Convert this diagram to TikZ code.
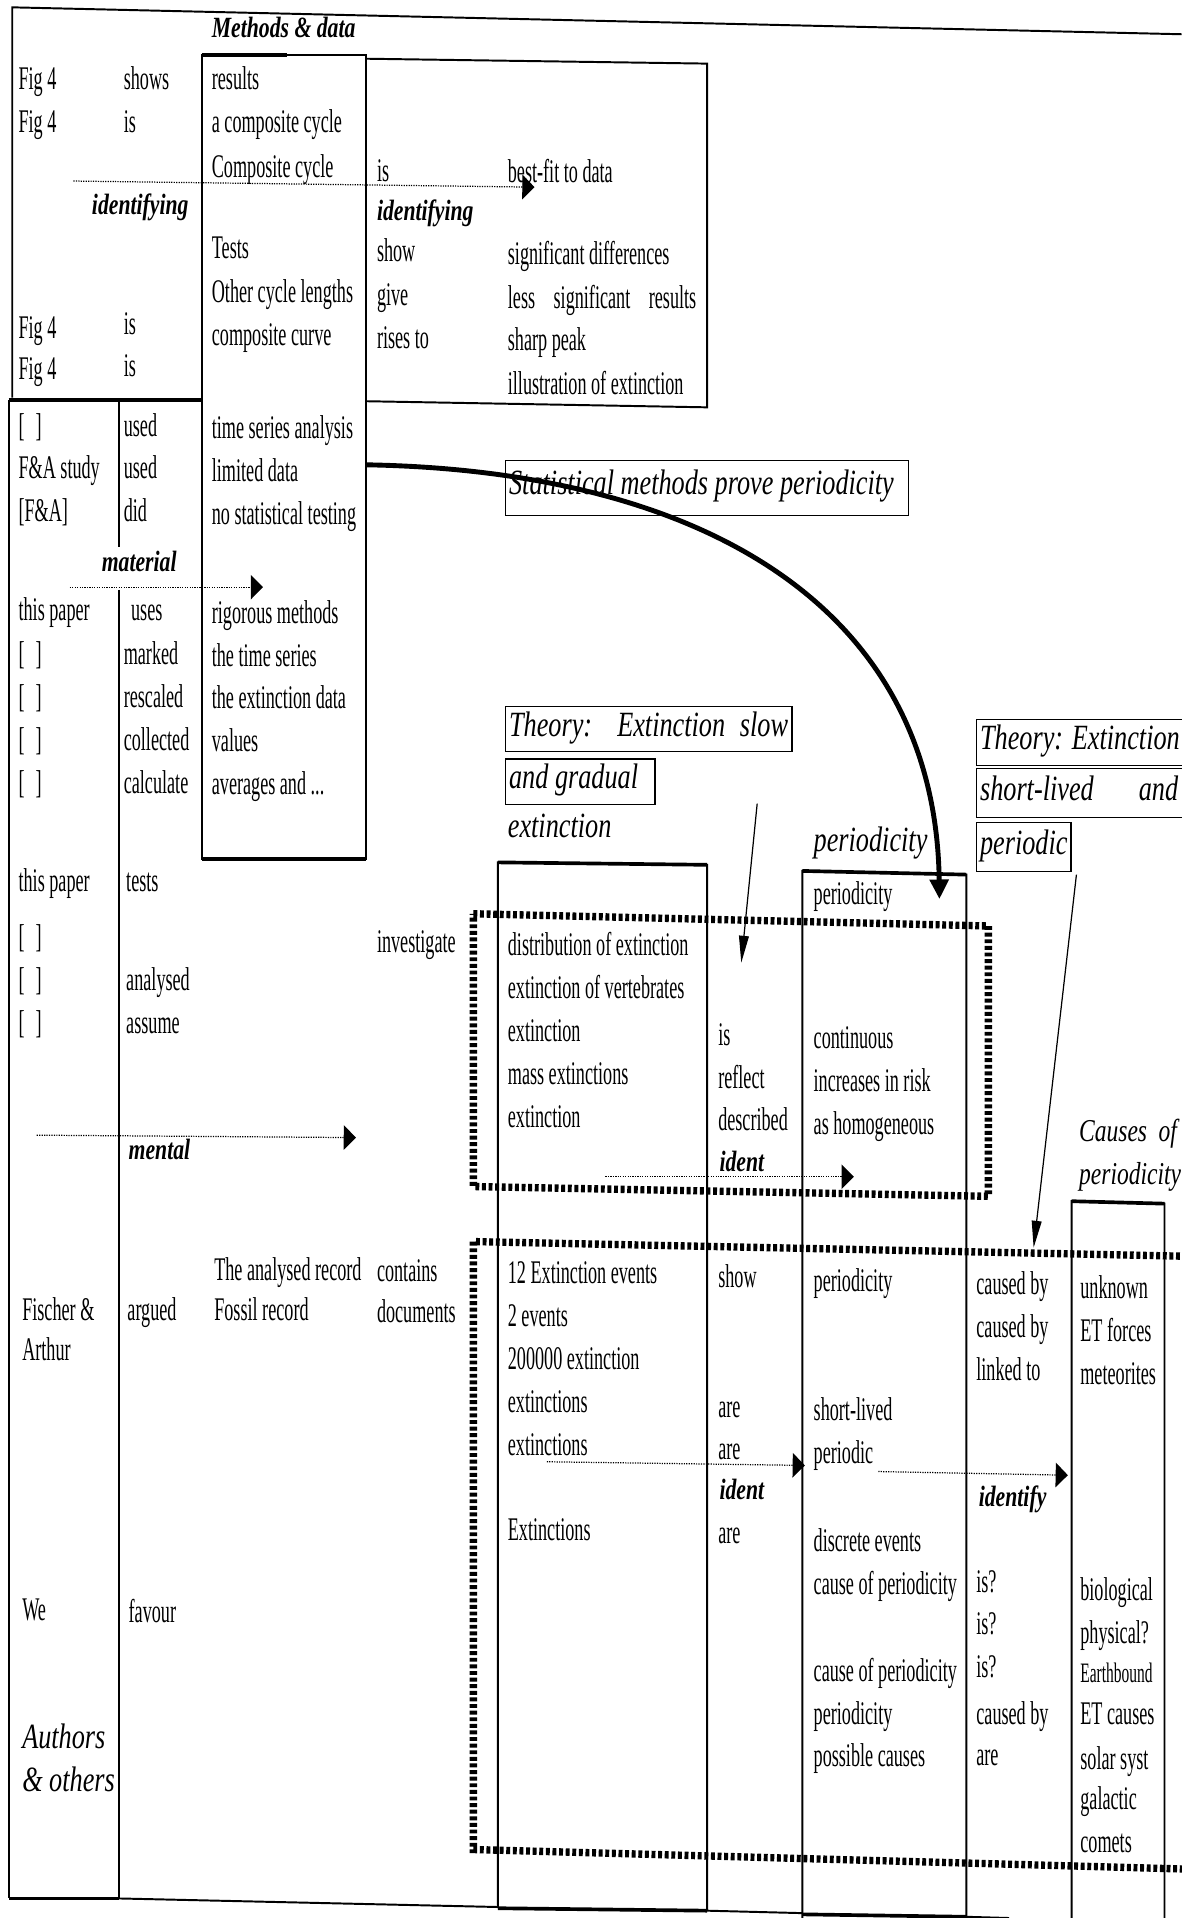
\documentclass[tikz,border=0pt]{standalone}
\usepackage{fontspec}
\setmainfont{Liberation Serif}
\newfontfamily\condfont[FakeStretch=0.55]{Liberation Serif}
\newfontfamily\handfont[FakeStretch=0.74]{Liberation Serif}
\usetikzlibrary{arrows.meta}
\begin{document}
\begin{tikzpicture}[x=1pt,y=-1pt,
 tx/.style={anchor=west,inner sep=0pt,font=\condfont\fontsize{27}{30}\selectfont,text height=18pt,text depth=5pt},
 txs/.style={tx,font=\condfont\fontsize{23}{26}\selectfont},
 hand/.style={anchor=west,inner sep=0pt,font=\handfont\itshape\fontsize{29}{32}\selectfont,text height=20pt,text depth=7pt},
 hands/.style={hand,font=\handfont\itshape\fontsize{26}{30}\selectfont},
 handb/.style={anchor=west,inner sep=0pt,font=\handfont\bfseries\itshape\fontsize{24}{28}\selectfont,text height=17pt,text depth=6pt},
 lin/.style={line width=1.6pt},
 thk/.style={line width=3pt},
 thbox/.style={draw,line width=1pt,inner sep=0pt,anchor=north west},
 hatch/.style={line width=6pt,dash pattern=on 3.2pt off 2.2pt},
 dotarrow/.style={line width=1pt,dash pattern=on 1pt off 1pt,-{Triangle[length=10pt,width=20pt]}},
 thinarrow/.style={line width=1pt,-{Triangle[length=22pt,width=8pt]}},
 bigarrow/.style={line width=4pt,-{Triangle[length=16pt,width=15pt]}}
]
\useasboundingbox (0,0) rectangle (966,1568);
\fill[white] (0,0) rectangle (966,1568);

% ---------- frames ----------
\draw[lin] (10,325) -- (10,6) -- (966,28);
\draw[lin] (165,45) rectangle (299,702);
\draw[thk] (165,45) -- (235,45);
\draw[thk] (165,702) -- (299,702);
\draw[lin] (299,48) -- (578,52) -- (578,333) -- (299,328);
\draw[thk] (7,327) -- (165,327);
\draw[lin] (7,327) -- (7,1552);
\draw[thk] (7,1552) -- (97,1552);
\draw[lin] (97,327) -- (97,447);
\draw[lin] (97,482) -- (97,1552);
\draw[lin] (97,1552) -- (407,1559);
\draw[lin] (578,1562) -- (656,1564);
\draw[lin] (790,1567) -- (825,1568);
% column boxes
\draw[lin] (407,1560) -- (407,705) -- (578,707) -- (578,1562);
\draw[thk] (407,1560) -- (578,1562);
\draw[thk] (407,705) -- (578,707);
\draw[lin] (656,1568) -- (656,712) -- (790,715) -- (790,1570);
\draw[thk] (656,712) -- (790,715);
\draw[thk] (656,1565) -- (790,1567);
\draw[lin] (876,1570) -- (876,982) -- (952,984) -- (952,1570);
\draw[thk] (876,982) -- (952,984);
% hatched boxes
\draw[hatch] (387,747) -- (808,757) -- (808,978) -- (387,970) -- cycle;
\draw[hatch] (970,1027) -- (387,1015) -- (387,1512) -- (970,1528);

% ---------- top section ----------
\node[handb] (md) at (173,25) {Methods \& data};
\node[tx] (r1a) at (15,67) {Fig 4};
\node[tx] (r1b) at (101,67) {shows};
\node[tx] (r1c) at (173,67) {results};
\node[tx] (r2a) at (15,102) {Fig 4};
\node[tx] (r2b) at (101,102) {is};
\node[tx] (r2c) at (173,102) {a composite cycle};
\node[tx] (r3c) at (173,139) {Composite cycle};
\node[tx] (r3d) at (308,142) {is};
\node[tx] (r3e) at (415,143) {best-fit to data};
\node[handb] (id1) at (75,170) {identifying};
\node[handb] (id2) at (308,175) {identifying};
\node[tx] (r4c) at (173,205) {Tests};
\node[tx] (r4d) at (308,207) {show};
\node[tx] (r4e) at (415,210) {significant differences};
\node[tx] (r5c) at (173,241) {Other cycle lengths};
\node[tx] (r5d) at (308,243) {give};
\node[tx] (r5e) at (415,246) {\makebox[154pt][s]{less significant results}};
\node[tx] (r6a) at (15,270) {Fig 4};
\node[tx] (r6b) at (101,267) {is};
\node[tx] (r6c) at (173,276) {composite curve};
\node[tx] (r6d) at (308,278) {rises to};
\node[tx] (r6e) at (415,280) {sharp peak};
\node[tx] (r7a) at (15,304) {Fig 4};
\node[tx] (r7b) at (101,301) {is};
\node[tx] (r7e) at (415,316) {illustration of extinction};

% ---------- lower-left section ----------
\node[tx] (s1a) at (15,350) {[\hspace{9pt}]};
\node[tx] (s1b) at (101,350) {used};
\node[tx] (s1c) at (173,352) {time series analysis};
\node[tx] (s2a) at (15,385) {F\&A study};
\node[tx] (s2b) at (101,385) {used};
\node[tx] (s2c) at (173,387) {limited data};
\node[tx] (s3a) at (15,420) {[F\&A]};
\node[tx] (s3b) at (101,420) {did};
\node[tx] (s3c) at (173,422) {no statistical testing};
\node[handb] (mat) at (83,462) {material};
\node[tx] (s4a) at (15,501) {this paper};
\node[tx] (s4b) at (107,501) {uses};
\node[tx] (s4c) at (173,503) {rigorous methods};
\node[tx] (s5a) at (15,537) {[\hspace{9pt}]};
\node[tx] (s5b) at (101,537) {marked};
\node[tx] (s5c) at (173,538) {the time series};
\node[tx] (s6a) at (15,572) {[\hspace{9pt}]};
\node[tx] (s6b) at (101,572) {rescaled};
\node[tx] (s6c) at (173,573) {the extinction data};
\node[tx] (s7a) at (15,607) {[\hspace{9pt}]};
\node[tx] (s7b) at (101,607) {collected};
\node[tx] (s7c) at (173,608) {values};
\node[tx] (s8a) at (15,642) {[\hspace{9pt}]};
\node[tx] (s8b) at (101,642) {calculate};
\node[tx] (s8c) at (173,643) {averages and ...};
\node[tx] (u1a) at (15,722) {this paper};
\node[tx] (u1b) at (103,722) {tests};
\node[tx] (u2a) at (15,768) {[\hspace{9pt}]};
\node[tx] (u2d) at (308,772) {investigate};
\node[tx] (u3a) at (15,803) {[\hspace{9pt}]};
\node[tx] (u3b) at (103,803) {analysed};
\node[tx] (u4a) at (15,838) {[\hspace{9pt}]};
\node[tx] (u4b) at (103,838) {assume};
\node[handb] (men) at (105,942) {mental};
\node[tx] (v1c) at (175,1040) {The analysed record};
\node[tx] (v1d) at (308,1041) {contains};
\node[tx] (v2a) at (18,1073) {Fischer \&};
\node[tx] (v2b) at (104,1073) {argued};
\node[tx] (v2c) at (175,1073) {Fossil record};
\node[tx] (v2d) at (308,1075) {documents};
\node[tx] (v3a) at (18,1106) {Arthur};
\node[tx] (w1a) at (18,1318) {We};
\node[tx] (w1b) at (105,1320) {favour};
\node[hand] (au1) at (18,1423) {Authors};
\node[hand] (au2) at (18,1458) {\& others};

% ---------- theory boxes ----------
\node[thbox,minimum width=329pt,minimum height=45pt] (stat) at (413,376) {};
\node[hand] (statt) at (416,398) {Statistical methods prove periodicity};
\node[thbox,minimum width=234pt,minimum height=37pt] (th1a) at (413,577) {};
\node[hand] (th1at) at (416,596) {\makebox[228pt][s]{Theory: Extinction slow}};
\node[thbox,minimum width=122pt,minimum height=37pt] (th1b) at (413,620) {};
\node[hand] (th1bt) at (416,638) {and gradual};
\node[thbox,minimum width=168pt,minimum height=37pt] (th2a) at (798,588) {};
\node[hand] (th2at) at (801,606) {Theory: Extinction};
\node[thbox,minimum width=168pt,minimum height=40pt] (th2b) at (798,628) {};
\node[hand] (th2bt) at (801,648) {\makebox[162pt][s]{short-lived and}};
\node[thbox,minimum width=77pt,minimum height=40pt] (th2c) at (798,672) {};
\node[hand] (th2ct) at (801,692) {periodic};

% ---------- extinction / periodicity columns ----------
\node[hand] (hext) at (415,678) {extinction};
\node[hand] (hper) at (665,690) {periodicity};
\node[tx] (p0) at (665,733) {periodicity};
\node[tx] (x1) at (415,775) {distribution of extinction};
\node[tx] (x2) at (415,810) {extinction of vertebrates};
\node[tx] (x3) at (415,845) {extinction};
\node[tx] (x3b) at (587,848) {is};
\node[tx] (x3c) at (665,851) {continuous};
\node[tx] (x4) at (415,880) {mass extinctions};
\node[tx] (x4b) at (587,883) {reflect};
\node[tx] (x4c) at (665,886) {increases in risk};
\node[tx] (x5) at (415,915) {extinction};
\node[tx] (x5b) at (587,918) {described};
\node[tx] (x5c) at (665,921) {as homogeneous};
\node[handb] (idt1) at (588,952) {ident};

\node[hands] (cau1) at (882,927) {\makebox[80pt][s]{Causes of}};
\node[hands] (cau2) at (882,962) {periodicity};

\node[tx] (y1a) at (415,1043) {12 Extinction events};
\node[tx] (y1b) at (587,1046) {show};
\node[tx] (y1c) at (665,1049) {periodicity};
\node[tx] (y1d) at (798,1052) {caused by};
\node[tx] (y1e) at (883,1055) {unknown};
\node[tx] (y2a) at (415,1078) {2 events};
\node[tx] (y2d) at (798,1087) {caused by};
\node[tx] (y2e) at (883,1090) {ET forces};
\node[tx] (y3a) at (415,1113) {200000 extinction};
\node[tx] (y3d) at (798,1122) {linked to};
\node[tx] (y3e) at (883,1125) {meteorites};
\node[tx] (y4a) at (415,1148) {extinctions};
\node[tx] (y4b) at (587,1152) {are};
\node[tx] (y4c) at (665,1155) {short-lived};
\node[tx] (y5a) at (415,1183) {extinctions};
\node[tx] (y5b) at (587,1187) {are};
\node[tx] (y5c) at (665,1190) {periodic};
\node[handb] (idt2) at (588,1220) {ident};
\node[handb] (idf) at (800,1226) {identify};
\node[tx] (y6a) at (415,1253) {Extinctions};
\node[tx] (y6b) at (587,1255) {are};
\node[tx] (y6c) at (665,1262) {discrete events};
\node[tx] (y7c) at (665,1297) {cause of periodicity};
\node[tx] (y7d) at (798,1295) {is?};
\node[tx] (y7e) at (883,1302) {biological};
\node[tx] (y8d) at (798,1330) {is?};
\node[tx] (y8e) at (883,1337) {physical?};
\node[tx] (y9c) at (665,1368) {cause of periodicity};
\node[tx] (y9d) at (798,1365) {is?};
\node[txs] (y9e) at (883,1369) {Earthbound};
\node[tx] (y10c) at (665,1403) {periodicity};
\node[tx] (y10d) at (798,1403) {caused by};
\node[tx] (y10e) at (883,1403) {ET causes};
\node[tx] (y11c) at (665,1438) {possible causes};
\node[tx] (y11d) at (798,1437) {are};
\node[tx] (y11e) at (883,1440) {solar syst};
\node[tx] (y12e) at (883,1473) {galactic};
\node[tx] (y13e) at (883,1508) {comets};

% ---------- connectors ----------
\coordinate (a1s) at (60,148);   \coordinate (a1e) at (437,153);
\coordinate (a2s) at (57,480);   \coordinate (a2e) at (215,480);
\coordinate (a3s) at (30,928);   \coordinate (a3e) at (291,930);
\coordinate (a4s) at (495,962);  \coordinate (a4e) at (698,962);
\coordinate (a5s) at (447,1195); \coordinate (a5e) at (658,1198);
\coordinate (a6s) at (718,1203); \coordinate (a6e) at (873,1206);
\coordinate (b1s) at (300,380);  \coordinate (b1e) at (768,735);
\coordinate (c1s) at (619,657);  \coordinate (c1e) at (606,787);
\coordinate (c2s) at (880,715);  \coordinate (c2e) at (845,1020);

\draw[dotarrow] (a1s) -- (a1e);
\draw[dotarrow] (a2s) -- (a2e);
\draw[dotarrow] (a3s) -- (a3e);
\draw[dotarrow] (a4s) -- (a4e);
\draw[dotarrow] (a5s) -- (a5e);
\draw[dotarrow] (a6s) -- (a6e);
\draw[bigarrow] (b1s) .. controls (580,385) and (765,500) .. (b1e);
\draw[thinarrow] (c1s) -- (c1e);
\draw[thinarrow] (c2s) -- (c2e);
\end{tikzpicture}
\end{document}
